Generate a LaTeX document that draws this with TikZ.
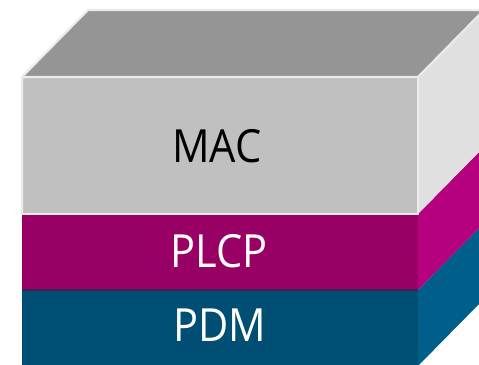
\documentclass[tikz,border=0pt]{standalone}
\usepackage{fontspec}
\setmainfont{Open Sans}
\usepackage{tikz}
\definecolor{topgray}{HTML}{959595}
\definecolor{macfront}{HTML}{C0C0C0}
\definecolor{macside}{HTML}{E0E0E0}
\definecolor{plcpfront}{HTML}{990066}
\definecolor{plcpside}{HTML}{B5007F}
\definecolor{pdmfront}{HTML}{004E73}
\definecolor{pdmside}{HTML}{005F8A}
\definecolor{rim}{HTML}{EBEBEB}
\definecolor{seam}{HTML}{3A2350}

\begin{document}
\begin{tikzpicture}[scale=0.1]
\tikzstyle{every node}+=[inner sep=0pt, xscale=0.91, font=\fontsize{13}{15}\selectfont]
\clip (0,0) rectangle (47.9,-36.5);
% PDM layer
\fill [pdmfront] (2.2,-29.0) rectangle (41.8,-36.6);
\fill [pdmside] (41.8,-29.0) -- (48.4,-22.3) -- (48.4,-29.9) -- (41.8,-36.6) -- cycle;
\draw (22.0,-32.5) node [white] (pdm) {PDM};
% PLCP layer
\fill [plcpfront] (2.2,-21.4) rectangle (41.8,-29.0);
\fill [plcpside] (41.8,-21.4) -- (48.4,-14.7) -- (48.4,-22.3) -- (41.8,-29.0) -- cycle;
\draw [seam, line width=0.5pt] (2.2,-29.0) -- (41.8,-29.0);
\draw (21.9,-25.1) node [white] (plcp) {PLCP};
% MAC layer with the top of the stack
\fill [macfront] (2.2,-7.7) rectangle (41.8,-21.4);
\fill [macside] (41.8,-7.7) -- (48.4,-1.0) -- (48.4,-14.7) -- (41.8,-21.4) -- cycle;
\fill [topgray] (2.2,-7.7) -- (8.8,-1.0) -- (48.4,-1.0) -- (41.8,-7.7) -- cycle;
\draw [rim, line width=0.6pt] (2.2,-21.4) -- (2.2,-7.7) -- (8.8,-1.0) -- (48.4,-1.0);
\draw [rim, line width=0.6pt] (2.2,-7.7) -- (41.8,-7.7) -- (48.4,-1.0);
\draw [rim, line width=0.6pt] (41.8,-7.7) -- (41.8,-21.4) -- (2.2,-21.4);
\draw (21.7,-14.6) node [black] (mac) {MAC};
\end{tikzpicture}
\end{document}
